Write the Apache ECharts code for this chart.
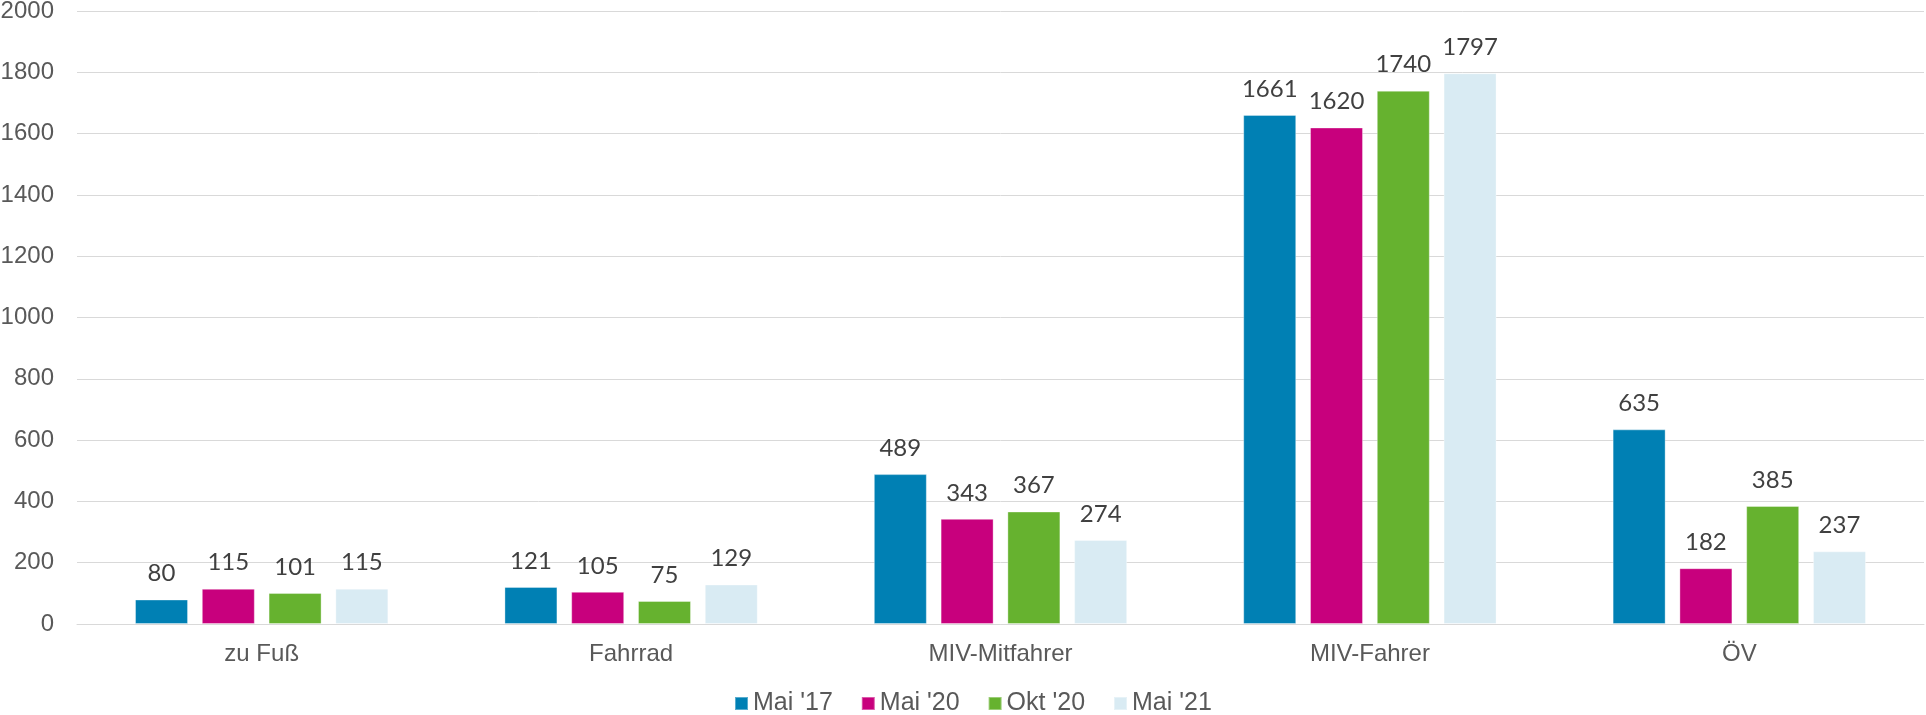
<!DOCTYPE html>
<html>
<head>
    <meta charset="utf-8">
    <script src="https://cdn.jsdelivr.net/npm/echarts@6/dist/echarts.min.js"></script>
    <style>
        html, body { margin: 0; padding: 0; background: #fff; }
        #main { width: 1926px; height: 715px; }
    </style>
</head>
<body>
<div id="main"></div>
<script type="text/javascript">
// Kategorien und Werte
var categories = ['zu Fuß', 'Fahrrad', 'MIV-Mitfahrer', 'MIV-Fahrer', 'ÖV'];
var seriesNames = ["Mai '17", "Mai '20", "Okt '20", "Mai '21"];
var mai17 = [80, 121, 489, 1661, 635];
var mai20 = [115, 105, 343, 1620, 182];
var okt20 = [101, 75, 367, 1740, 385];
var mai21 = [115, 129, 274, 1797, 237];
var colors = ['#0080B4', '#C8007D', '#66B22F', '#D9EBF3'];

var values = [mai17, mai20, okt20, mai21];

var myChart = echarts.init(document.getElementById('main'));

var series = [];
for (var i = 0; i < values.length; i++) {
    series.push({
        name: seriesNames[i],
        type: 'bar',
        data: values[i],
        barWidth: 53,
        barGap: '26%',
        itemStyle: {
            color: colors[i],
            borderColor: 'rgba(255,255,255,0.35)',
            borderWidth: 1
        },
        label: {
            show: true,
            position: 'top',
            distance: 14,
            color: '#404040',
            fontFamily: 'Lato',
            fontSize: 24
        }
    });
}

var option = {
    animation: false,
    color: colors,
    grid: { left: 77, right: 2, top: 11, bottom: 91, containLabel: false, outerBoundsMode: 'none' },
    legend: {
        left: 729,
        top: 686,
        itemWidth: 13,
        itemHeight: 13,
        itemGap: 28,
        icon: 'rect',
        textStyle: { color: '#595959', fontFamily: 'Liberation Sans', fontSize: 25 },
        data: seriesNames
    },
    xAxis: {
        type: 'category',
        data: categories,
        axisLine: { lineStyle: { color: '#D9D9D9', width: 1 } },
        axisTick: { show: false },
        axisLabel: { color: '#595959', fontFamily: 'Liberation Sans', fontSize: 24, margin: 18 }
    },
    yAxis: {
        type: 'value',
        min: 0,
        max: 2000,
        interval: 200,
        axisLine: { show: false },
        axisTick: { show: false },
        axisLabel: {
            color: '#595959', fontFamily: 'Liberation Sans', fontSize: 24, margin: 23,
            formatter: function (v) { return String(v); }
        },
        splitLine: { lineStyle: { color: '#D9D9D9', width: 1 } }
    },
    series: series
};

myChart.setOption(option);
</script>
</body>
</html>
